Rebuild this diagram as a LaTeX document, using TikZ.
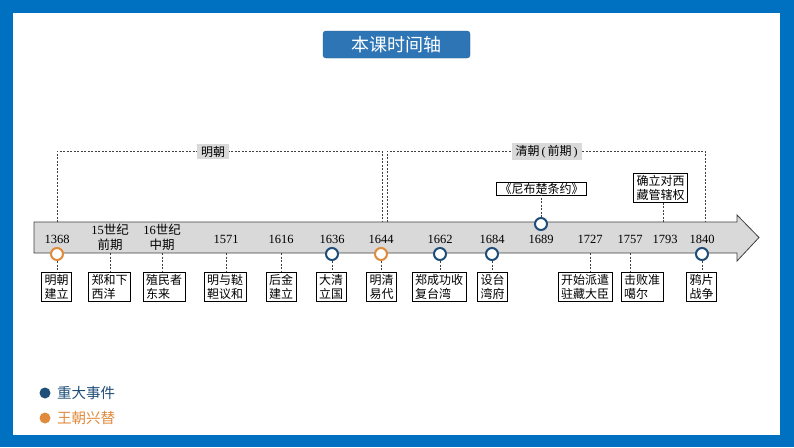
\documentclass[tikz,border=0pt]{standalone}
\usepackage{fontspec}
\setmainfont{Liberation Serif}
\newfontfamily\cjk{Noto Sans CJK SC}
\definecolor{frameblue}{HTML}{0070C0}
\definecolor{titleblue}{HTML}{2E75B6}
\definecolor{evblue}{HTML}{1F4E79}
\definecolor{dynorange}{HTML}{E08A3C}
\definecolor{bandgray}{HTML}{D9D9D9}
\definecolor{linegray}{HTML}{404040}
\tikzset{
  evbox/.style={draw=black, line width=0.6pt, fill=white, inner xsep=3pt, inner ysep=2pt, align=left, font=\cjk\fontsize{12}{14}\selectfont},
  yearlbl/.style={font=\fontsize{12.5}{15.5}\selectfont, align=center, inner sep=0pt},
  evdot/.style={circle, draw=evblue, line width=2pt, fill=white, minimum size=12pt, inner sep=0pt},
  dyndot/.style={circle, draw=dynorange, line width=2pt, fill=white, minimum size=12pt, inner sep=0pt},
  conn/.style={draw=linegray, dashed, dash pattern=on 2pt off 1.5pt, line width=0.6pt},
  eralbl/.style={fill=bandgray, inner xsep=4pt, inner ysep=2pt, font=\cjk\fontsize{12}{13}\selectfont},
}
\begin{document}
\begin{tikzpicture}[x=1pt,y=-1pt]
\useasboundingbox (0,0) rectangle (794,447);
% frame
\fill[frameblue] (0,0) rectangle (794,447);
\fill[white] (13,13) rectangle (780,435);
% title
\node[fill=titleblue, draw=titleblue!80!black, rounded corners=3pt, minimum width=147pt, minimum height=27pt, text=white, font=\cjk\fontsize{18}{20}\selectfont, inner sep=0pt] (title) at (396.5,44.5) {本课时间轴};
% era brackets
\coordinate (mA) at (57,222);
\coordinate (mB) at (382,222);
\coordinate (qA) at (387,222);
\coordinate (qB) at (705,222);
\draw[conn] (mA) -- (57,151) -- (382,151) -- (mB);
\draw[conn] (qA) -- (387,151) -- (705,151) -- (qB);
\node[eralbl] (ming) at (213,151.5) {明朝};
\node[eralbl] (qing) at (546.5,151.5) {清朝{\rmfamily\,(\,}前期{\rmfamily\,)}};
% arrow band
\draw[fill=bandgray, draw=linegray, line width=0.8pt] (34,222) -- (737,222) -- (737,215) -- (759,237.5) -- (737,261) -- (737,253) -- (34,253) -- cycle;
% years
\node[yearlbl] (y1368) at (57,239) {1368};
\node[yearlbl] (y15) at (110,237.5) {15{\cjk 世纪}\\{\cjk 前期}};
\node[yearlbl] (y16) at (162,237.5) {16{\cjk 世纪}\\{\cjk 中期}};
\node[yearlbl] (y1571) at (226,239) {1571};
\node[yearlbl] (y1616) at (281,239) {1616};
\node[yearlbl] (y1636) at (332,239) {1636};
\node[yearlbl] (y1644) at (381,239) {1644};
\node[yearlbl] (y1662) at (440,239) {1662};
\node[yearlbl] (y1684) at (492,239) {1684};
\node[yearlbl] (y1689) at (541,239) {1689};
\node[yearlbl] (y1727) at (590,239) {1727};
\node[yearlbl] (y1757) at (630,239) {1757};
\node[yearlbl] (y1793) at (665,239) {1793};
\node[yearlbl] (y1840) at (702,239) {1840};
% tick points without dots
\coordinate (t15) at (110,253);
\coordinate (t16) at (162,253);
\coordinate (t1571) at (226,253);
\coordinate (t1616) at (281,253);
\coordinate (t1727) at (590,253);
\coordinate (t1757) at (630,253);
\coordinate (t1793) at (663,222);
% boxes
\node[evbox, anchor=north] (b1368) at (56.5,272) {明朝\\建立};
\node[evbox, anchor=north] (b15) at (109.5,272) {郑和下\\西洋};
\node[evbox, anchor=north] (b16) at (164,272) {殖民者\\东来};
\node[evbox, anchor=north] (b1571) at (225,272) {明与鞑\\靼议和};
\node[evbox, anchor=north] (b1616) at (281,272) {后金\\建立};
\node[evbox, anchor=north] (b1636) at (331,272) {大清\\立国};
\node[evbox, anchor=north] (b1644) at (381.5,272) {明清\\易代};
\node[evbox, anchor=north] (b1662) at (439,272) {郑成功收\\复台湾};
\node[evbox, anchor=north] (b1684) at (492.5,272) {设台\\湾府};
\node[evbox, anchor=north] (b1727) at (585,272) {开始派遣\\驻藏大臣};
\node[evbox, anchor=north] (b1757) at (642,272) {击败准\\噶尔};
\node[evbox, anchor=north] (b1840) at (701.5,272) {鸦片\\战争};
\node[evbox, inner ysep=1pt] (b1689) at (541.5,188.5) {《尼布楚条约》};
\node[evbox, anchor=south] (b1793) at (660.5,203) {确立对西\\藏管辖权};
% connectors
\draw[conn] (t15) -- (b15.north -| t15);
\draw[conn] (t16) -- (b16.north -| t16);
\draw[conn] (t1571) -- (b1571.north -| t1571);
\draw[conn] (t1616) -- (b1616.north -| t1616);
\draw[conn] (t1727) -- (b1727.north -| t1727);
\draw[conn] (t1757) -- (b1757.north -| t1757);
\draw[conn] (t1793) -- (b1793.south -| t1793);
% dots
\node[dyndot] (d1368) at (57,254) {};
\node[evdot] (d1636) at (332,254) {};
\node[dyndot] (d1644) at (381,254) {};
\node[evdot] (d1662) at (440,254) {};
\node[evdot] (d1684) at (492,254) {};
\node[evdot] (d1689) at (541,224) {};
\node[evdot] (d1840) at (702,254) {};
\draw[conn] (d1368) -- (b1368.north -| d1368);
\draw[conn] (d1636) -- (b1636.north -| d1636);
\draw[conn] (d1644) -- (b1644.north -| d1644);
\draw[conn] (d1662) -- (b1662.north -| d1662);
\draw[conn] (d1684) -- (b1684.north -| d1684);
\draw[conn] (d1689) -- (b1689.south -| d1689);
\draw[conn] (d1840) -- (b1840.north -| d1840);
% legend
\node[circle, fill=evblue, minimum size=11pt, inner sep=0pt] (lg1) at (45,393) {};
\node[circle, fill=dynorange, minimum size=11pt, inner sep=0pt] (lg2) at (45,418) {};
\node[anchor=west, text=evblue, font=\cjk\fontsize{14.5}{16}\selectfont, inner sep=0pt] (lt1) at (57,393) {重大事件};
\node[anchor=west, text=dynorange, font=\cjk\fontsize{14.5}{16}\selectfont, inner sep=0pt] (lt2) at (57,418) {王朝兴替};
\end{tikzpicture}
\end{document}
